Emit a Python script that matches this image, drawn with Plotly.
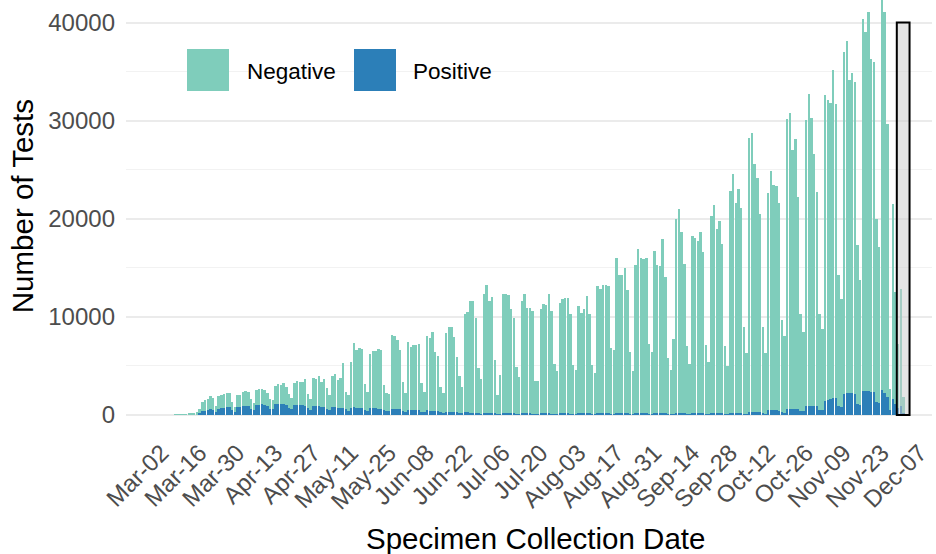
import pandas as pd
import plotly.graph_objects as go

start_date = "2020-03-02"

# Daily counts, Mar 02 onwards
negative = [
    0, 0, 0, 0, 0, 35, 25,
    60, 50, 75, 100, 105, 140, 190,
    400, 1000, 1100, 1200, 1400, 1200, 650,
    1300, 1300, 1350, 1400, 1450, 800, 500,
    1200, 1200, 1400, 1450, 1400, 1000, 750,
    1550, 1600, 1550, 1450, 1250, 950, 950,
    1800, 1950, 1900, 2100, 1800, 1350, 1100,
    2250, 2500, 2330, 2400, 2720, 1450, 1070,
    2820, 2770, 3070, 2480, 2820, 2110, 1550,
    3200, 3370, 2810, 2980, 4500, 1830, 1580,
    4610, 6550, 5850, 6050, 6000, 2660, 1980,
    5500, 5770, 5840, 6050, 5950, 2610, 1860,
    1800, 7480, 7400, 7020, 6090, 2930, 1980,
    6950, 6380, 6650, 6650, 6750, 3000, 2050,
    7550, 7440, 8000, 6050, 5650, 2590, 2010,
    8050, 8660, 8710, 7650, 5630, 3750, 2740,
    10000, 10250, 11370, 11380, 9630, 4640, 3540,
    12170, 13050, 11420, 11820, 5430, 1900, 4000,
    12190, 12200, 12030, 10600, 9770, 4750, 3810,
    11440, 12210, 10710, 10780, 10450, 3410, 3420,
    10610, 11180, 11020, 12210, 10450, 5130, 4390,
    11290, 11630, 11730, 11800, 10180, 5030, 4460,
    10920, 10240, 10650, 11990, 10100, 4960, 4190,
    13020, 12710, 13080, 13050, 12960, 6730, 6500,
    15840, 14140, 14140, 14820, 12620, 6290, 4390,
    15080, 16780, 15860, 15760, 15870, 7170, 6330,
    16530, 15070, 14970, 17790, 13890, 5740, 4460,
    7650, 19830, 20850, 18440, 15190, 6890, 5070,
    18020, 17880, 17540, 18430, 16430, 6990, 5300,
    20050, 21170, 18800, 19580, 17200, 6910, 4880,
    22560, 24360, 21400, 22760, 20900, 8830, 6220,
    27940, 28410, 25250, 23880, 20260, 8800, 6170,
    22180, 24390, 22960, 22860, 21210, 9380, 7790,
    29490, 30170, 26330, 27520, 21620, 9930, 8100,
    29200, 31860, 29400, 25740, 21830, 9800, 8320,
    31190, 30580, 30200, 33440, 29970, 13330, 11000,
    34860, 35930, 31920, 32670, 31850, 16190, 12720,
    38010, 36600, 38690, 34030, 33690, 18710, 15920,
    40500, 38890, 27900, 2220, 19890, 11430, 6560,
    11970, 1620,
]
positive = [
    0, 0, 0, 0, 0, 5, 5,
    10, 10, 15, 20, 25, 40, 60,
    200, 350, 400, 450, 550, 500, 300,
    650, 700, 750, 800, 800, 500, 300,
    800, 850, 900, 950, 950, 650, 450,
    1000, 1050, 1100, 1050, 950, 650, 550,
    1100, 1150, 1100, 1100, 1000, 750, 600,
    1050, 1000, 1000, 1000, 950, 700, 500,
    950, 900, 900, 850, 850, 650, 500,
    800, 800, 750, 750, 750, 550, 400,
    750, 800, 750, 750, 700, 500, 400,
    700, 700, 700, 650, 650, 450, 350,
    350, 650, 600, 600, 550, 400, 300,
    500, 500, 450, 450, 450, 300, 250,
    450, 400, 400, 350, 350, 250, 200,
    300, 300, 250, 250, 250, 200, 150,
    250, 250, 230, 220, 200, 150, 120,
    200, 200, 180, 180, 150, 80, 100,
    180, 170, 170, 160, 150, 100, 90,
    160, 160, 150, 150, 140, 90, 80,
    150, 150, 150, 150, 140, 90, 80,
    150, 150, 150, 150, 140, 90, 80,
    150, 150, 150, 150, 150, 90, 80,
    160, 160, 160, 160, 150, 90, 80,
    160, 160, 160, 160, 150, 90, 80,
    170, 170, 170, 170, 160, 90, 80,
    180, 180, 180, 180, 170, 90, 80,
    120, 180, 180, 180, 170, 90, 80,
    190, 190, 190, 190, 180, 90, 90,
    200, 200, 200, 200, 190, 100, 100,
    240, 240, 240, 240, 230, 130, 120,
    300, 300, 300, 280, 260, 160, 140,
    450, 450, 450, 450, 430, 260, 220,
    650, 650, 650, 650, 600, 390, 350,
    900, 900, 900, 900, 900, 520, 470,
    1400, 1500, 1600, 1700, 1700, 900, 850,
    2150, 2200, 2200, 2200, 2100, 1100, 1000,
    2400, 2450, 2400, 2300, 2300, 1300, 1200,
    2500, 2200, 1800, 450, 1650, 1100, 700,
    900, 200,
]

y_ticks = [0, 10000, 20000, 30000, 40000]
x_tick_dates = ["2020-03-02", "2020-03-16", "2020-03-30", "2020-04-13", "2020-04-27",
                "2020-05-11", "2020-05-25", "2020-06-08", "2020-06-22", "2020-07-06",
                "2020-07-20", "2020-08-03", "2020-08-17", "2020-08-31", "2020-09-14",
                "2020-09-28", "2020-10-12", "2020-10-26", "2020-11-09", "2020-11-23",
                "2020-12-07"]
x_tick_labels = ["Mar-02", "Mar-16", "Mar-30", "Apr-13", "Apr-27", "May-11", "May-25",
                 "Jun-08", "Jun-22", "Jul-06", "Jul-20", "Aug-03", "Aug-17", "Aug-31",
                 "Sep-14", "Sep-28", "Oct-12", "Oct-26", "Nov-09", "Nov-23", "Dec-07"]

# incomplete-data window highlighted at the end
box_start = "2020-11-28 12:00"
box_end = "2020-12-03 05:00"
box_top = 40000

dates = pd.date_range(start_date, periods=len(negative), freq="D")

NEG_COL = "#7FCDBB"
POS_COL = "#2C7FB8"
FONT = "Liberation Sans, Arial, sans-serif"

fig = go.Figure()
fig.add_trace(go.Bar(x=dates, y=positive, name="Positive",
                     marker=dict(color=POS_COL, line=dict(width=0)), showlegend=False))
fig.add_trace(go.Bar(x=dates, y=negative, name="Negative",
                     marker=dict(color=NEG_COL, line=dict(width=0)), showlegend=False))

W, H = 936, 554
L, R, T, B = 126, 4, 0, 118.4
pw = W - L - R
ph = H - T - B

def px_to_paper_x(px):
    return (px - L) / pw

def px_to_paper_y(py):
    return 1 - (py - T) / ph

shapes = [
    dict(type="rect", xref="x", yref="y", x0=box_start, x1=box_end, y0=0, y1=box_top,
         fillcolor="rgba(204,204,204,0.5)", line=dict(color="black", width=2), layer="above"),
    # legend keys
    dict(type="rect", xref="paper", yref="paper", x0=px_to_paper_x(187), x1=px_to_paper_x(229),
         y0=px_to_paper_y(91), y1=px_to_paper_y(49), fillcolor=NEG_COL, line=dict(width=0)),
    dict(type="rect", xref="paper", yref="paper", x0=px_to_paper_x(354), x1=px_to_paper_x(396),
         y0=px_to_paper_y(91), y1=px_to_paper_y(49), fillcolor=POS_COL, line=dict(width=0)),
]
annotations = [
    dict(text="Negative", xref="paper", yref="paper", x=px_to_paper_x(245), y=px_to_paper_y(71),
         xanchor="left", yanchor="middle", showarrow=False,
         font=dict(size=22.5, color="black", family=FONT)),
    dict(text="Positive", xref="paper", yref="paper", x=px_to_paper_x(411), y=px_to_paper_y(71),
         xanchor="left", yanchor="middle", showarrow=False,
         font=dict(size=22.5, color="black", family=FONT)),
    # axis titles
    dict(text="Number of Tests", xref="paper", yref="paper", x=px_to_paper_x(22), y=px_to_paper_y(206),
         xanchor="center", yanchor="middle", textangle=-90, showarrow=False,
         font=dict(size=29.5, color="black", family=FONT)),
    dict(text="Specimen Collection Date", xref="paper", yref="paper", x=px_to_paper_x(535.5),
         y=px_to_paper_y(538), xanchor="center", yanchor="middle", showarrow=False,
         font=dict(size=29.5, color="black", family=FONT)),
]

fig.update_layout(
    width=W, height=H,
    barmode="stack", bargap=0.1,
    plot_bgcolor="white", paper_bgcolor="white",
    margin=dict(l=L, r=R, t=T, b=B, pad=0),
    font=dict(family=FONT, color="#4D4D4D"),
    shapes=shapes, annotations=annotations,
    xaxis=dict(
        type="date", automargin=False,
        range=["2020-02-17 19:00", "2020-12-11 12:00"],
        tickvals=x_tick_dates, ticktext=x_tick_labels,
        tickangle=-45, tickfont=dict(size=24, color="#4D4D4D"),
        showgrid=False, zeroline=False, showline=False, ticks="",
        ticklabelstandoff=-3,
    ),
    yaxis=dict(
        automargin=False,
        range=[-2153, 42296],
        tickvals=y_ticks, ticktext=[str(v) for v in y_ticks],
        tickfont=dict(size=24, color="#4D4D4D"),
        showgrid=True, gridcolor="#EBEBEB", gridwidth=1.8,
        minor=dict(dtick=5000, tick0=0, showgrid=True, gridcolor="#F2F2F2", gridwidth=1),
        zeroline=False, showline=False, ticks="",
        ticklabelstandoff=10,
    ),
)

# remove the browser's default page margin so the figure sits at the window's corner
fig.write_html("out.html", config={"displayModeBar": False},
               post_script="document.body.style.margin='0px';")
